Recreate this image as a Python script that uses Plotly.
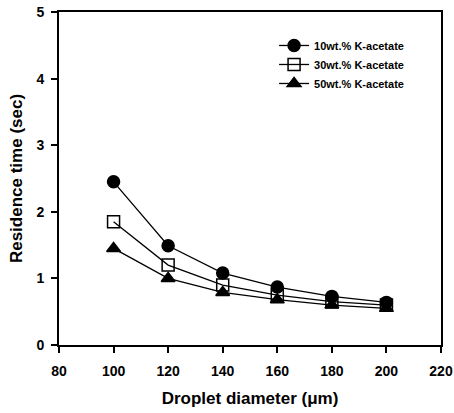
import plotly.graph_objects as go

diameter = [100, 120, 140, 160, 180, 200]
k10 = [2.45, 1.49, 1.08, 0.87, 0.73, 0.64]
k30 = [1.85, 1.20, 0.90, 0.75, 0.65, 0.60]
k50 = [1.45, 1.00, 0.79, 0.68, 0.60, 0.55]
names = ["10wt.% K-acetate", "30wt.% K-acetate", "50wt.% K-acetate"]

font = "Liberation Sans, Arial, sans-serif"
fig = go.Figure()
specs = [(k10, "circle"), (k30, "square-open"), (k50, "triangle-up")]
for (vals, sym), nm in zip(specs, names):
    fig.add_trace(go.Scatter(
        x=diameter, y=vals, mode="lines+markers", name=nm,
        line=dict(color="black", width=1.3),
        marker=dict(symbol=sym, size=12, color="black", line=dict(color="black", width=1.5)),
    ))

axis_common = dict(showgrid=False, zeroline=False, ticks="outside", ticklen=6, tickwidth=2,
                   tickcolor="black", showline=True, linecolor="black", linewidth=2, mirror=True,
                   automargin=False,
                   tickfont=dict(family=font, size=14, color="black", weight="bold"))
fig.update_xaxes(range=[80, 220], dtick=20, tick0=80, ticklabelstandoff=6,
                 title=dict(text="Droplet diameter (μm)", font=dict(family=font, size=17, color="black", weight="bold"), standoff=14),
                 **axis_common)
fig.update_yaxes(range=[0, 5], dtick=1, ticklabelstandoff=4,
                 title=dict(text="Residence time (sec)", font=dict(family=font, size=17, color="black", weight="bold"), standoff=9),
                 **axis_common)
fig.update_layout(
    width=454, height=413, margin=dict(l=59, r=13, t=12, b=68),
    plot_bgcolor="white", paper_bgcolor="white",
    legend=dict(x=0.563, y=0.943, xanchor="left", yanchor="top", bgcolor="rgba(0,0,0,0)",
                font=dict(family=font, size=11, color="black", weight="bold"), tracegroupgap=0, itemwidth=30),
)
fig.write_html("out.html", config={"displayModeBar": False},
               post_script="document.body.style.margin='0';document.body.style.overflow='hidden';")
